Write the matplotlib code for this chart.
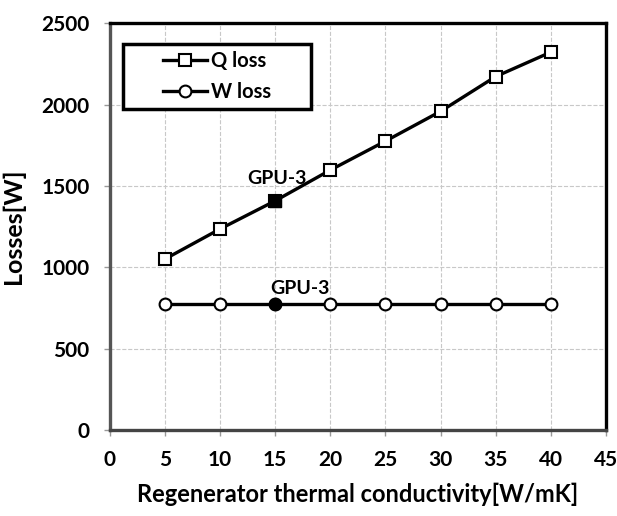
import matplotlib.pyplot as plt
from matplotlib.patches import Rectangle

# data
conductivity = [5, 10, 15, 20, 25, 30, 35, 40]
q_loss = [1050, 1235, 1408, 1597, 1775, 1958, 2172, 2322]
w_loss = [773, 773, 773, 773, 773, 773, 773, 773]
gpu3_k = 15
x_ticks = [0, 5, 10, 15, 20, 25, 30, 35, 40, 45]
y_ticks = [0, 500, 1000, 1500, 2000, 2500]

plt.rcParams['font.family'] = ['Lato', 'DejaVu Sans']
plt.rcParams['font.weight'] = 'bold'

fig = plt.figure(figsize=(6.17, 5.16), dpi=100)
ax = fig.add_axes([0.178, 0.167, 0.804, 0.788])

ax.plot(conductivity, q_loss, color='black', lw=2.4, marker='s', ms=9,
        mfc='white', mec='black', mew=1.5, label='Q loss', zorder=3)
ax.plot(conductivity, w_loss, color='black', lw=2.4, marker='o', ms=8.5,
        mfc='white', mec='black', mew=1.5, label='W loss', zorder=3)

# highlighted GPU-3 points
i = conductivity.index(gpu3_k)
ax.plot([gpu3_k], [q_loss[i]], marker='s', ms=9, color='black', zorder=4)
ax.plot([gpu3_k], [w_loss[i]], marker='o', ms=8.5, color='black', zorder=4)
ax.annotate('GPU-3', (gpu3_k, q_loss[i]), xytext=(1, 16),
            textcoords='offset points', ha='center', va='center',
            fontsize=14, fontweight='bold')
ax.annotate('GPU-3', (gpu3_k, w_loss[i]), xytext=(18, 11.5),
            textcoords='offset points', ha='center', va='center',
            fontsize=14, fontweight='bold')

ax.set_xlim(0, 45)
ax.set_ylim(0, 2500)
ax.set_xticks(x_ticks)
ax.set_yticks(y_ticks)
ax.tick_params(labelsize=15, length=4.5, width=1, color='#999999')
ax.tick_params(axis='y', pad=10)
ax.tick_params(axis='x', pad=10)
for lab in ax.get_xticklabels() + ax.get_yticklabels():
    lab.set_fontweight('bold')
ax.grid(True, color='#c8c8c8', ls='--', lw=0.8)

ax.spines['left'].set_color('#555555')
ax.spines['bottom'].set_color('#444444')
for s in ax.spines.values():
    s.set_linewidth(2.4)

ax.set_xlabel('Regenerator thermal conductivity[W/mK]', fontsize=17,
              fontweight='bold', labelpad=9)
ax.set_ylabel('Losses[W]', fontsize=18, fontweight='bold', labelpad=12)

# legend with its own wide frame
ax.add_patch(Rectangle((0.026, 0.789), 0.379, 0.160, transform=ax.transAxes,
                       fill=True, fc='white', ec='black', lw=2.5, zorder=5))
leg = ax.legend(loc='center', bbox_to_anchor=(0.216, 0.869), fontsize=14.5,
                frameon=False, handlelength=2.2, borderpad=0.2,
                labelspacing=0.55, handletextpad=0.2)
leg.set_zorder(6)
for t in leg.get_texts():
    t.set_fontweight('bold')

fig.savefig('out.png', dpi=100)
